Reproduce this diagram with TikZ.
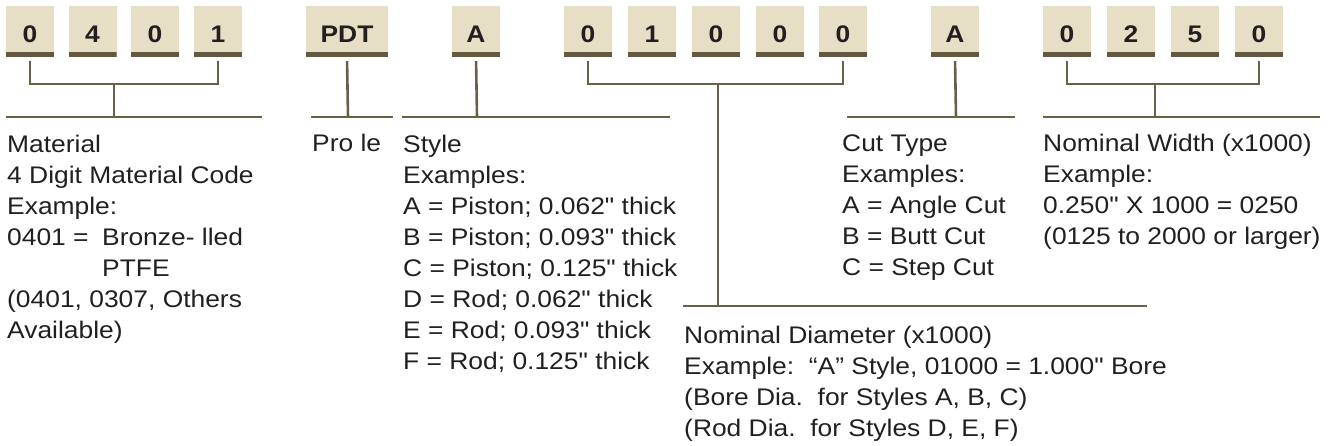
\documentclass[tikz,border=0pt]{standalone}
\usepackage{fontspec}
\setmainfont{Liberation Sans}[FakeStretch=1.1, Ligatures=TeXOff]
\usepackage{tikz}

\definecolor{boxfill}{HTML}{E6DFC6}
\definecolor{barbrown}{HTML}{64583F}
\definecolor{linebrown}{HTML}{6B5F48}
\definecolor{inkgray}{HTML}{231F20}

\tikzset{
  digit/.style={fill=boxfill, minimum width=48pt, minimum height=51pt, inner sep=0pt,
    text height=23pt, text depth=0pt, text=inkgray,
    font=\fontsize{24}{28}\selectfont\bfseries,
    path picture={\fill[barbrown] ([yshift=5pt]path picture bounding box.south west)
      rectangle (path picture bounding box.south east);}},
  conn/.style={draw=linebrown, line width=2.6pt},
  desc/.style={anchor=base west, align=left, inner sep=0pt, text=inkgray,
    font=\fontsize{24}{31}\selectfont}
}

\begin{document}
\begin{tikzpicture}[x=1pt, y=-1pt]
\useasboundingbox (0,0) rectangle (1335,446);
%boxes
\foreach \n/\x/\t in {m1/30/0, m2/92.5/4, m3/155/0, m4/218/1,
    sty/476/A, d1/588/0, d2/652/1, d3/716/0, d4/780/0, d5/843/0,
    cut/955/A, w1/1067/0, w2/1131/2, w3/1195/5, w4/1259/0}
  \node[digit] (\n) at (\x,31.5) {\t};
\node[digit, minimum width=82pt] (prof) at (347,31.5) {PDT};
%joints
\coordinate (mj) at (114,84);
\coordinate (mk) at (114,117);
\coordinate (pk) at (348,117);
\coordinate (sk) at (477,117);
\coordinate (dj) at (718,84);
\coordinate (dk) at (718,306);
\coordinate (ck) at (956,117);
\coordinate (wj) at (1155,84);
\coordinate (wk) at (1155,117);
%material
\draw[conn, shorten <=4pt, shorten >=4pt] (m1.south) |- (mj) -| (m4.south);
\draw[conn] (mj) -- (mk);
\draw[conn] (6,117) -- (262,117);
%profile
\draw[conn, shorten <=4pt] (prof.south) -- (pk);
\draw[conn] (311,117) -- (393,117);
%style
\draw[conn, shorten <=4pt] (sty.south) -- (sk);
\draw[conn] (402,117) -- (670,117);
%diameter
\draw[conn, shorten <=4pt, shorten >=4pt] (d1.south) |- (dj) -| (d5.south);
\draw[conn] (dj) -- (dk);
\draw[conn] (683,306) -- (1147,306);
%cut type
\draw[conn, shorten <=4pt] (cut.south) -- (ck);
\draw[conn] (847,117) -- (1015,117);
%width
\draw[conn, shorten <=4pt, shorten >=4pt] (w1.south) |- (wj) -| (w4.south);
\draw[conn] (wj) -- (wk);
\draw[conn] (1043,117) -- (1320,117);
%texts (base = last line)
\node[desc] (mattext) at (7,338) {Material\\4 Digit Material Code\\Example:\\
  \makebox[95pt][l]{0401 =}Bronze- lled\\\hspace*{95pt}PTFE\\
  (0401, 0307, Others\\Available)};
\node[desc] (proftext) at (312,152) {Pro le};
\node[desc] (stytext) at (403,369) {Style\\Examples:\\A = Piston; 0.062" thick\\
  B = Piston; 0.093" thick\\C = Piston; 0.125" thick\\D = Rod; 0.062" thick\\
  E = Rod; 0.093" thick\\F = Rod; 0.125" thick};
\node[desc] (cuttext) at (842,276) {Cut Type\\Examples:\\A = Angle Cut\\
  B = Butt Cut\\C = Step Cut};
\node[desc] (widtext) at (1043,245) {Nominal Width (x1000)\\Example:\\
  0.250" X 1000 = 0250\\(0125 to 2000 or larger)};
\node[desc] (diatext) at (684,436) {Nominal Diameter (x1000)\\
  Example:\ \ “A” Style, 01000 = 1.000" Bore\\(Bore Dia.\ \ for Styles A, B, C)\\
  (Rod Dia.\ \ for Styles D, E, F)};
\end{tikzpicture}
\end{document}
